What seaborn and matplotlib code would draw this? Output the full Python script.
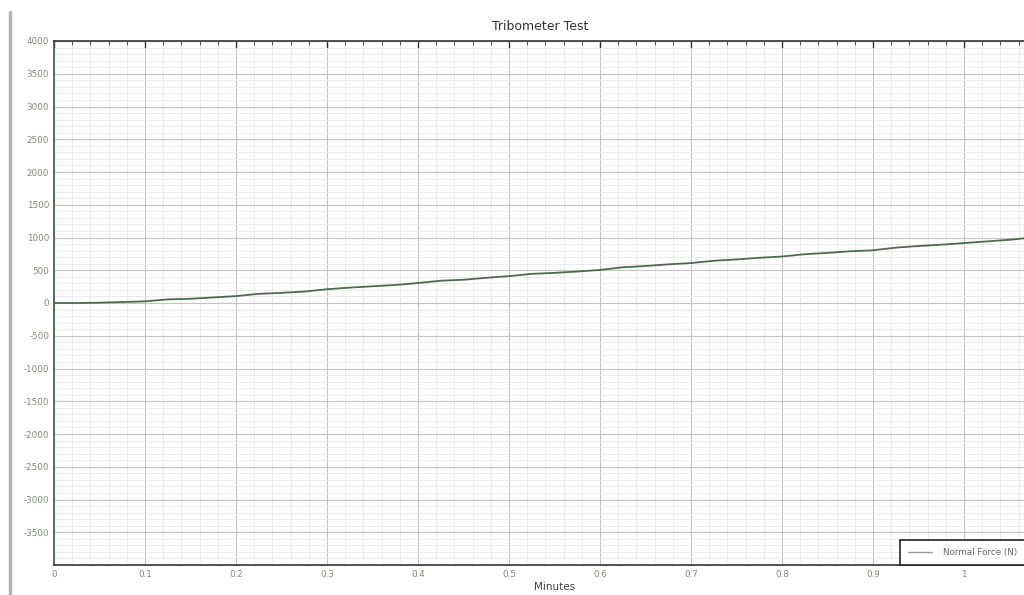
import numpy as np
import pandas as pd
import matplotlib
matplotlib.use('Agg')
import matplotlib.pyplot as plt
from matplotlib.ticker import MultipleLocator
from matplotlib.lines import Line2D
import seaborn as sns

# Tribometer readings (minutes, newtons)
minutes = [0.0, 0.025, 0.05, 0.075, 0.1, 0.125, 0.15, 0.175, 0.2, 0.225, 0.25,
           0.275, 0.3, 0.325, 0.35, 0.375, 0.4, 0.425, 0.45, 0.475, 0.5, 0.525,
           0.55, 0.575, 0.6, 0.625, 0.65, 0.675, 0.7, 0.725, 0.75, 0.775, 0.8,
           0.825, 0.85, 0.875, 0.9, 0.925, 0.95, 0.975, 1.0, 1.025, 1.05, 1.075, 1.1]
normal_force = [0, 0, 5, 15, 25, 55, 65, 85, 105, 140, 155, 175, 210, 235, 255,
                275, 305, 340, 355, 385, 410, 445, 460, 480, 505, 545, 565, 590,
                610, 645, 665, 690, 710, 745, 765, 790, 805, 845, 870, 890, 915,
                940, 965, 1000, 1020]

y_ticks = list(range(-3500, 4001, 500))
x_ticks = [0, 0.1, 0.2, 0.3, 0.4, 0.5, 0.6, 0.7, 0.8, 0.9, 1.0]

df = pd.DataFrame({'Minutes': minutes, 'Normal Force (N)': normal_force})

sns.set_style('white')
plt.rcParams['font.family'] = ['DejaVu Sans']
plt.rcParams['axes.unicode_minus'] = False

fig = plt.figure(figsize=(10.24, 5.95), dpi=100)
ax = fig.add_axes([54 / 1024, 30 / 595, 1001 / 1024, 524 / 595])

sns.lineplot(data=df, x='Minutes', y='Normal Force (N)', ax=ax,
             color='#4d6b4d', linewidth=1.3, legend=False)

ax.set_xlim(0, 1.1)
ax.set_ylim(-4000, 4000)
ax.set_xticks(x_ticks)
ax.set_xticklabels(['%g' % t for t in x_ticks])
ax.set_yticks(y_ticks)
ax.xaxis.set_minor_locator(MultipleLocator(0.02))
ax.yaxis.set_minor_locator(MultipleLocator(100))

ax.grid(which='major', color='#c4c4c4', linewidth=0.8)
ax.grid(which='minor', color='#e8e8e8', linewidth=0.6)
ax.set_axisbelow(True)

ax.tick_params(axis='both', which='major', direction='in', labelsize=6.3,
               length=5, width=1, colors='#333333', labelcolor='#7f8a78')
ax.tick_params(axis='both', which='minor', direction='in', length=3, width=0.8,
               colors='#555555')
ax.tick_params(axis='x', which='both', top=True)
ax.tick_params(axis='y', which='both', right=False)

for side in ['left', 'bottom', 'top']:
    ax.spines[side].set_color('#333333')
    ax.spines[side].set_linewidth(1.2)
ax.spines['left'].set_color('#3d5a3d')
ax.spines['right'].set_visible(False)

ax.set_xlabel('Minutes', fontsize=7.5, color='#444444', labelpad=2)
ax.set_ylabel('')
fig.text(540 / 1024, 1 - 27 / 595, 'Tribometer Test', ha='center', va='center',
         fontsize=9, color='#333333')

handle = Line2D([], [], color='#9a9a9a', linewidth=1)
leg = fig.legend([handle], ['Normal Force (N)'], loc='lower left',
                 bbox_to_anchor=(900 / 1024, 30 / 595), borderaxespad=0,
                 fontsize=6.3, frameon=True, fancybox=False, framealpha=1,
                 borderpad=0.9, handlelength=2.8, handletextpad=1.2,
                 labelcolor='#666666')
leg.get_frame().set_edgecolor('#222222')
leg.get_frame().set_linewidth(1.2)

# widget border on the left
fig.add_artist(Line2D([10 / 1024, 10 / 1024], [0, 1 - 12 / 595],
                      color='#b5b5b5', linewidth=2.5))

fig.savefig('out.png', dpi=100)
